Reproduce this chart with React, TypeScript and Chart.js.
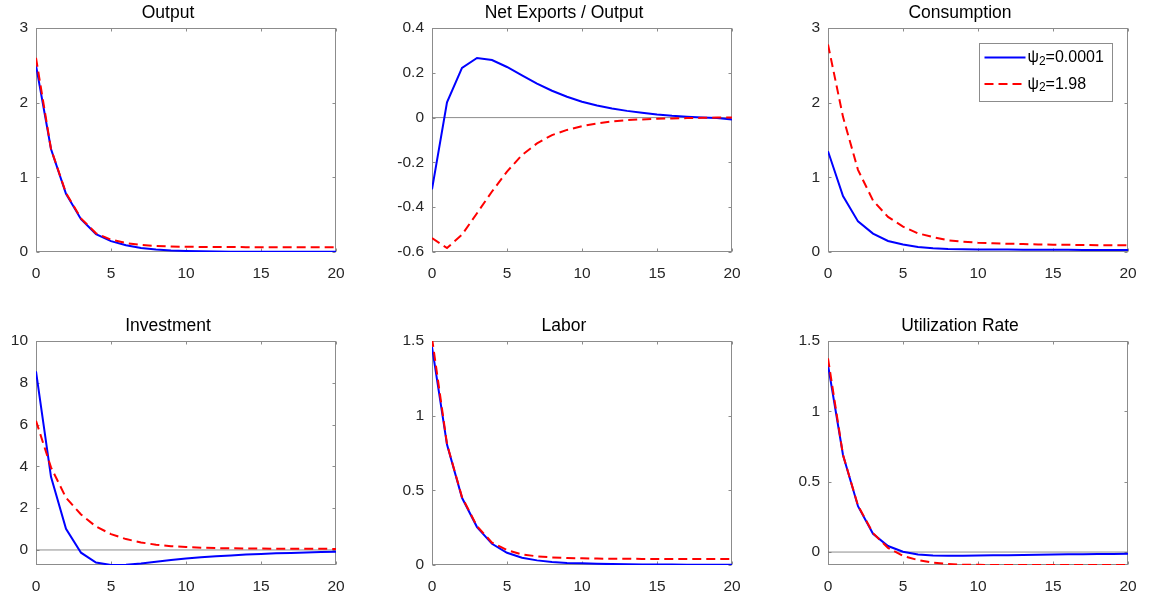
import React, { useEffect, useRef } from 'react';
import { Chart, registerables } from 'chart.js';

Chart.register(...registerables);

const FONT = "'Liberation Sans', Arial, Helvetica, sans-serif";

// ---------- data ----------
const periods = [0, 1, 2, 3, 4, 5, 6, 7, 8, 9, 10, 11, 12, 13, 14, 15, 16, 17, 18, 19, 20];
const xTicks = [0, 5, 10, 15, 20];
const xTickLabels = ['0', '5', '10', '15', '20'];
const seriesNames = ['ψ₂=0.0001', 'ψ₂=1.98'];

const outputLow = [2.5, 1.38, 0.78, 0.44, 0.24, 0.145, 0.09, 0.055, 0.033, 0.021, 0.014, 0.01, 0.007, 0.005, 0.004, 0.003, 0.003, 0.002, 0.002, 0.002, 0.002];
const outputHigh = [2.6, 1.38, 0.79, 0.45, 0.25, 0.165, 0.12, 0.095, 0.08, 0.073, 0.07, 0.068, 0.067, 0.066, 0.065, 0.065, 0.064, 0.064, 0.063, 0.063, 0.063];
const outputYTicks = [0, 1, 2, 3];
const outputYLabels = ['0', '1', '2', '3'];

const netExportsLow = [-0.32, 0.068, 0.222, 0.266, 0.257, 0.226, 0.189, 0.152, 0.12, 0.093, 0.071, 0.054, 0.041, 0.03, 0.022, 0.014, 0.008, 0.004, 0.001, -0.002, -0.008];
const netExportsHigh = [-0.538, -0.582, -0.523, -0.427, -0.33, -0.241, -0.167, -0.115, -0.078, -0.055, -0.038, -0.026, -0.017, -0.011, -0.008, -0.005, -0.004, -0.002, -0.001, 0, 0.001];
const netExportsYTicks = [-0.6, -0.4, -0.2, 0, 0.2, 0.4];
const netExportsYLabels = ['-0.6', '-0.4', '-0.2', '0', '0.2', '0.4'];

const consumptionLow = [1.35, 0.75, 0.41, 0.246, 0.148, 0.1, 0.067, 0.05, 0.04, 0.037, 0.035, 0.033, 0.032, 0.031, 0.03, 0.029, 0.029, 0.028, 0.028, 0.027, 0.027];
const consumptionHigh = [2.78, 1.81, 1.1, 0.69, 0.47, 0.34, 0.25, 0.2, 0.157, 0.138, 0.125, 0.117, 0.111, 0.106, 0.102, 0.098, 0.096, 0.094, 0.092, 0.09, 0.089];
const consumptionYTicks = [0, 1, 2, 3];
const consumptionYLabels = ['0', '1', '2', '3'];

const investmentLow = [8.55, 3.5, 1.01, -0.13, -0.6, -0.72, -0.71, -0.65, -0.56, -0.48, -0.41, -0.35, -0.3, -0.26, -0.22, -0.19, -0.16, -0.14, -0.12, -0.1, -0.08];
const investmentHigh = [6.18, 3.95, 2.5, 1.7, 1.12, 0.76, 0.52, 0.36, 0.25, 0.18, 0.14, 0.11, 0.09, 0.08, 0.07, 0.065, 0.06, 0.06, 0.055, 0.055, 0.05];
const investmentYTicks = [0, 2, 4, 6, 8, 10];
const investmentYLabels = ['0', '2', '4', '6', '8', '10'];

const laborLow = [1.46, 0.806, 0.45, 0.254, 0.142, 0.082, 0.049, 0.031, 0.02, 0.014, 0.011, 0.008, 0.006, 0.005, 0.004, 0.003, 0.003, 0.002, 0.002, 0.002, 0.002];
const laborHigh = [1.52, 0.81, 0.455, 0.26, 0.15, 0.1, 0.071, 0.058, 0.051, 0.047, 0.045, 0.043, 0.042, 0.042, 0.041, 0.041, 0.04, 0.04, 0.04, 0.04, 0.04];
const laborYTicks = [0, 0.5, 1, 1.5];
const laborYLabels = ['0', '0.5', '1', '1.5'];

const utilizationLow = [1.33, 0.69, 0.326, 0.13, 0.043, 0.002, -0.017, -0.024, -0.026, -0.026, -0.024, -0.023, -0.022, -0.021, -0.019, -0.017, -0.016, -0.015, -0.014, -0.013, -0.012];
const utilizationHigh = [1.377, 0.69, 0.33, 0.135, 0.03, -0.028, -0.057, -0.076, -0.085, -0.09, -0.091, -0.092, -0.092, -0.092, -0.092, -0.092, -0.092, -0.092, -0.092, -0.092, -0.092];
const utilizationYTicks = [0, 0.5, 1, 1.5];
const utilizationYLabels = ['0', '0.5', '1', '1.5'];

type PanelDef = {
  title: string;
  low: number[];
  high: number[];
  yMin: number;
  yMax: number;
  yTicks: number[];
  yLabels: string[];
  zeroLine: boolean;
  legend: boolean;
};

const panels: PanelDef[] = [
  { title: 'Output', low: outputLow, high: outputHigh, yMin: 0, yMax: 3, yTicks: outputYTicks, yLabels: outputYLabels, zeroLine: false, legend: false },
  { title: 'Net Exports / Output', low: netExportsLow, high: netExportsHigh, yMin: -0.6, yMax: 0.4, yTicks: netExportsYTicks, yLabels: netExportsYLabels, zeroLine: true, legend: false },
  { title: 'Consumption', low: consumptionLow, high: consumptionHigh, yMin: 0, yMax: 3, yTicks: consumptionYTicks, yLabels: consumptionYLabels, zeroLine: false, legend: true },
  { title: 'Investment', low: investmentLow, high: investmentHigh, yMin: -0.72, yMax: 10, yTicks: investmentYTicks, yLabels: investmentYLabels, zeroLine: true, legend: false },
  { title: 'Labor', low: laborLow, high: laborHigh, yMin: 0, yMax: 1.5, yTicks: laborYTicks, yLabels: laborYLabels, zeroLine: false, legend: false },
  { title: 'Utilization Rate', low: utilizationLow, high: utilizationHigh, yMin: -0.092, yMax: 1.5, yTicks: utilizationYTicks, yLabels: utilizationYLabels, zeroLine: true, legend: false },
];

// ---------- layout ----------
const CANVAS_W = 348;
const CANVAS_H = 282;
const COL_LEFTS = [0, 396, 792];
const ROW_TOPS = [0, 313];
const AXIS_COLOR = '#8c8c8c';
const TEXT_COLOR = '#262626';

const boxPlugin = {
  id: 'matlabBox',
  beforeDatasetsDraw(chart: any) {
    const { ctx, chartArea: a, scales } = chart;
    ctx.save();
    ctx.strokeStyle = AXIS_COLOR;
    ctx.lineWidth = 1;
    const l = Math.round(a.left) + 0.5;
    const r = Math.round(a.right) - 0.5;
    const t = Math.round(a.top) + 0.5;
    const b = Math.round(a.bottom) - 0.5;
    ctx.strokeRect(l, t, r - l, b - t);
    const tl = 3;
    ctx.beginPath();
    scales.x.ticks.forEach((tk: any) => {
      const px = Math.round(scales.x.getPixelForValue(tk.value)) + 0.5;
      ctx.moveTo(px, b);
      ctx.lineTo(px, b - tl);
      ctx.moveTo(px, t);
      ctx.lineTo(px, t + tl);
    });
    scales.y.ticks.forEach((tk: any) => {
      const py = Math.round(scales.y.getPixelForValue(tk.value)) + 0.5;
      ctx.moveTo(l, py);
      ctx.lineTo(l + tl, py);
      ctx.moveTo(r, py);
      ctx.lineTo(r - tl, py);
    });
    ctx.stroke();
    ctx.restore();
  },
};

const legendPlugin = {
  id: 'psiLegend',
  afterDatasetsDraw(chart: any) {
    const { ctx, chartArea: a } = chart;
    const w = 133;
    const h = 58;
    const x0 = Math.round(a.right - 16 - w) + 0.5;
    const y0 = Math.round(a.top + 15) + 0.5;
    ctx.save();
    ctx.fillStyle = '#ffffff';
    ctx.fillRect(x0, y0, w, h);
    ctx.strokeStyle = AXIS_COLOR;
    ctx.lineWidth = 1;
    ctx.strokeRect(x0, y0, w, h);
    const series = chart.data.datasets.filter((d: any) => d.isSeries);
    series.forEach((ds: any, i: number) => {
      const cy = y0 + 14 + i * 26.6;
      ctx.beginPath();
      ctx.strokeStyle = ds.borderColor;
      ctx.lineWidth = ds.borderWidth;
      ctx.setLineDash(ds.borderDash || []);
      ctx.moveTo(x0 + 5, cy);
      ctx.lineTo(x0 + 46, cy);
      ctx.stroke();
      ctx.setLineDash([]);
      const parts = String(ds.label).split('₂');
      const head = parts[0];
      const tail = parts[1] || '';
      ctx.fillStyle = '#000000';
      ctx.textBaseline = 'middle';
      ctx.textAlign = 'left';
      let tx = x0 + 48;
      ctx.font = `16px ${FONT}`;
      ctx.fillText(head, tx, cy);
      tx += ctx.measureText(head).width;
      ctx.font = `12px ${FONT}`;
      ctx.fillText('2', tx, cy + 4);
      tx += ctx.measureText('2').width;
      ctx.font = `16px ${FONT}`;
      ctx.fillText(tail, tx, cy);
    });
    ctx.restore();
  },
};

function Panel({ def, left, top }: { def: PanelDef; left: number; top: number }) {
  const ref = useRef<HTMLCanvasElement>(null);
  useEffect(() => {
    const canvas = ref.current;
    if (!canvas) return;
    const pts = (arr: number[]) => periods.map((x, i) => ({ x, y: arr[i] }));
    const datasets: any[] = [];
    if (def.zeroLine) {
      datasets.push({
        label: 'zero',
        data: [
          { x: periods[0], y: 0 },
          { x: periods[periods.length - 1], y: 0 },
        ],
        borderColor: '#6e6e6e',
        borderWidth: 0.8,
        pointRadius: 0,
        order: 2,
      });
    }
    datasets.push({
      label: seriesNames[0],
      data: pts(def.low),
      borderColor: '#0000ff',
      borderWidth: 2,
      pointRadius: 0,
      tension: 0,
      order: 1,
      isSeries: true,
    });
    datasets.push({
      label: seriesNames[1],
      data: pts(def.high),
      borderColor: '#ff0000',
      borderWidth: 2,
      borderDash: [9, 5],
      pointRadius: 0,
      tension: 0,
      order: 0,
      isSeries: true,
    });

    const chart = new Chart(canvas, {
      type: 'line',
      data: { datasets },
      options: {
        responsive: false,
        animation: false,
        devicePixelRatio: 1,
        events: [],
        layout: { padding: { left: 0, right: 12, top: 0, bottom: 0 } },
        plugins: {
          legend: { display: false },
          tooltip: { enabled: false },
          title: {
            display: true,
            text: def.title,
            color: '#000000',
            font: { family: FONT, size: 17.5, weight: 'normal', lineHeight: 1.2 },
            padding: { top: 2.7, bottom: 4.3 },
          },
        },
        scales: {
          x: {
            type: 'linear',
            min: periods[0],
            max: periods[periods.length - 1],
            grid: { display: false, drawTicks: true, tickLength: 9 },
            border: { display: false },
            afterBuildTicks: (s: any) => {
              s.ticks = xTicks.map((v) => ({ value: v }));
            },
            afterFit: (s: any) => {
              s.height = 30;
            },
            ticks: {
              padding: 3,
              autoSkip: false,
              maxRotation: 0,
              color: TEXT_COLOR,
              font: { family: FONT, size: 15.5 },
              callback: (_v: any, i: number) => xTickLabels[i],
            },
          },
          y: {
            type: 'linear',
            min: def.yMin,
            max: def.yMax,
            grid: { display: false, drawTicks: false },
            border: { display: false },
            afterBuildTicks: (s: any) => {
              s.ticks = def.yTicks.map((v) => ({ value: v }));
            },
            afterFit: (s: any) => {
              s.width = 36;
            },
            ticks: {
              padding: 8,
              autoSkip: false,
              color: TEXT_COLOR,
              font: { family: FONT, size: 15.5 },
              callback: (_v: any, i: number) => def.yLabels[i],
            },
          },
        },
      } as any,
      plugins: def.legend ? [boxPlugin, legendPlugin] : [boxPlugin],
    });
    return () => chart.destroy();
  }, [def]);
  return (
    <canvas
      ref={ref}
      width={CANVAS_W}
      height={CANVAS_H}
      style={{ position: 'absolute', left, top, width: CANVAS_W, height: CANVAS_H }}
    />
  );
}

export default function App() {
  return (
    <div style={{ position: 'absolute', left: 0, top: 0, width: 1151, height: 599, background: '#ffffff', overflow: 'hidden' }}>
      {panels.map((p, i) => (
        <Panel key={p.title} def={p} left={COL_LEFTS[i % 3]} top={ROW_TOPS[Math.floor(i / 3)]} />
      ))}
    </div>
  );
}
